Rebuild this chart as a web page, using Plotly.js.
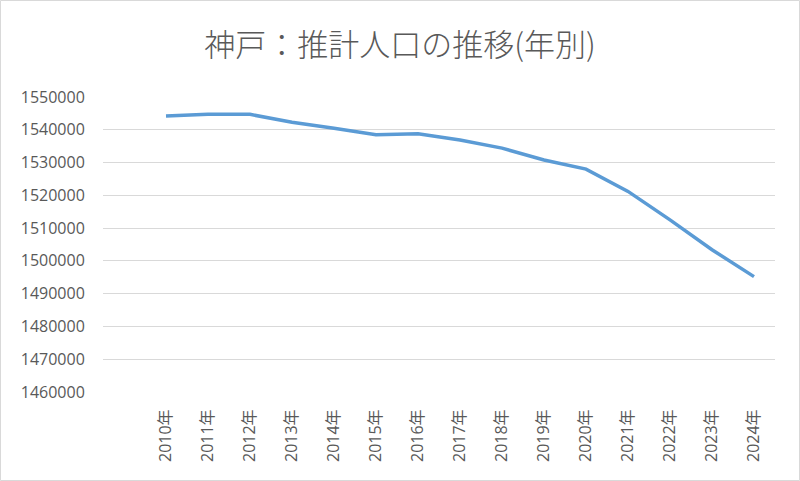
<!DOCTYPE html>
<html>
<head>
<meta charset="utf-8">
<script src="https://cdn.plot.ly/plotly-3.0.1.min.js"></script>
<style>html,body{margin:0;padding:0;background:#fff;}#chart{width:800px;height:481px;}</style>
</head>
<body>
<div id="chart"></div>
<script>
const years = ["2010年","2011年","2012年","2013年","2014年","2015年","2016年","2017年","2018年","2019年","2020年","2021年","2022年","2023年","2024年"];
const population = [1544200,1544700,1544700,1542300,1540450,1538500,1538800,1536900,1534400,1530800,1528000,1521200,1512500,1503400,1495200];
const yTicks = [1460000,1470000,1480000,1490000,1500000,1510000,1520000,1530000,1540000,1550000];
const titleText = "神戸：推計人口の推移(年別)";

const L = 103, R = 25, T = 97, B = 89, W = 800, H = 481;
const pw = W - L - R, ph = H - T - B;

const trace = {
  x: years, y: population, type: 'scatter', mode: 'lines',
  line: {color: '#5b9bd5', width: 3.5}, hoverinfo: 'skip'
};
const layout = {
  width: W, height: H,
  margin: {l: L, r: R, t: T, b: B},
  paper_bgcolor: '#ffffff', plot_bgcolor: '#ffffff',
  showlegend: false,
  font: {family: '"Open Sans", "Noto Sans CJK JP", sans-serif', color: '#595959'},
  title: {text: titleText, x: 0.5, xanchor: 'center', y: 1 - 45/H, yanchor: 'middle',
          font: {family: '"Noto Sans CJK JP", sans-serif', size: 31, weight: 300, color: '#595959'}},
  xaxis: {type: 'category', range: [-1.5, 14.5], tickangle: -90,
          showgrid: false, zeroline: false, showline: false,
          ticks: 'outside', ticklen: 10, tickcolor: 'rgba(0,0,0,0)',
          tickfont: {size: 16, color: '#595959', family: '"Open Sans", "Noto Sans CJK JP", sans-serif'}},
  yaxis: {range: [1460000, 1550000], tickvals: yTicks, ticktext: yTicks.map(String),
          showgrid: true, gridcolor: '#d9d9d9', gridwidth: 1, zeroline: false, showline: false,
          ticks: 'outside', ticklen: 14, tickcolor: 'rgba(0,0,0,0)',
          tickfont: {size: 16, color: '#595959'}},
  shapes: [{type: 'rect', xref: 'paper', yref: 'paper',
            x0: (0.5 - L)/pw, x1: (W - 0.5 - L)/pw,
            y0: ((H - B) - (H - 0.5))/ph, y1: ((H - B) - 0.5)/ph,
            line: {color: '#d9d9d9', width: 1}, layer: 'below'}]
};
Plotly.newPlot('chart', [trace], layout, {staticPlot: true, displayModeBar: false});
</script>
</body>
</html>
